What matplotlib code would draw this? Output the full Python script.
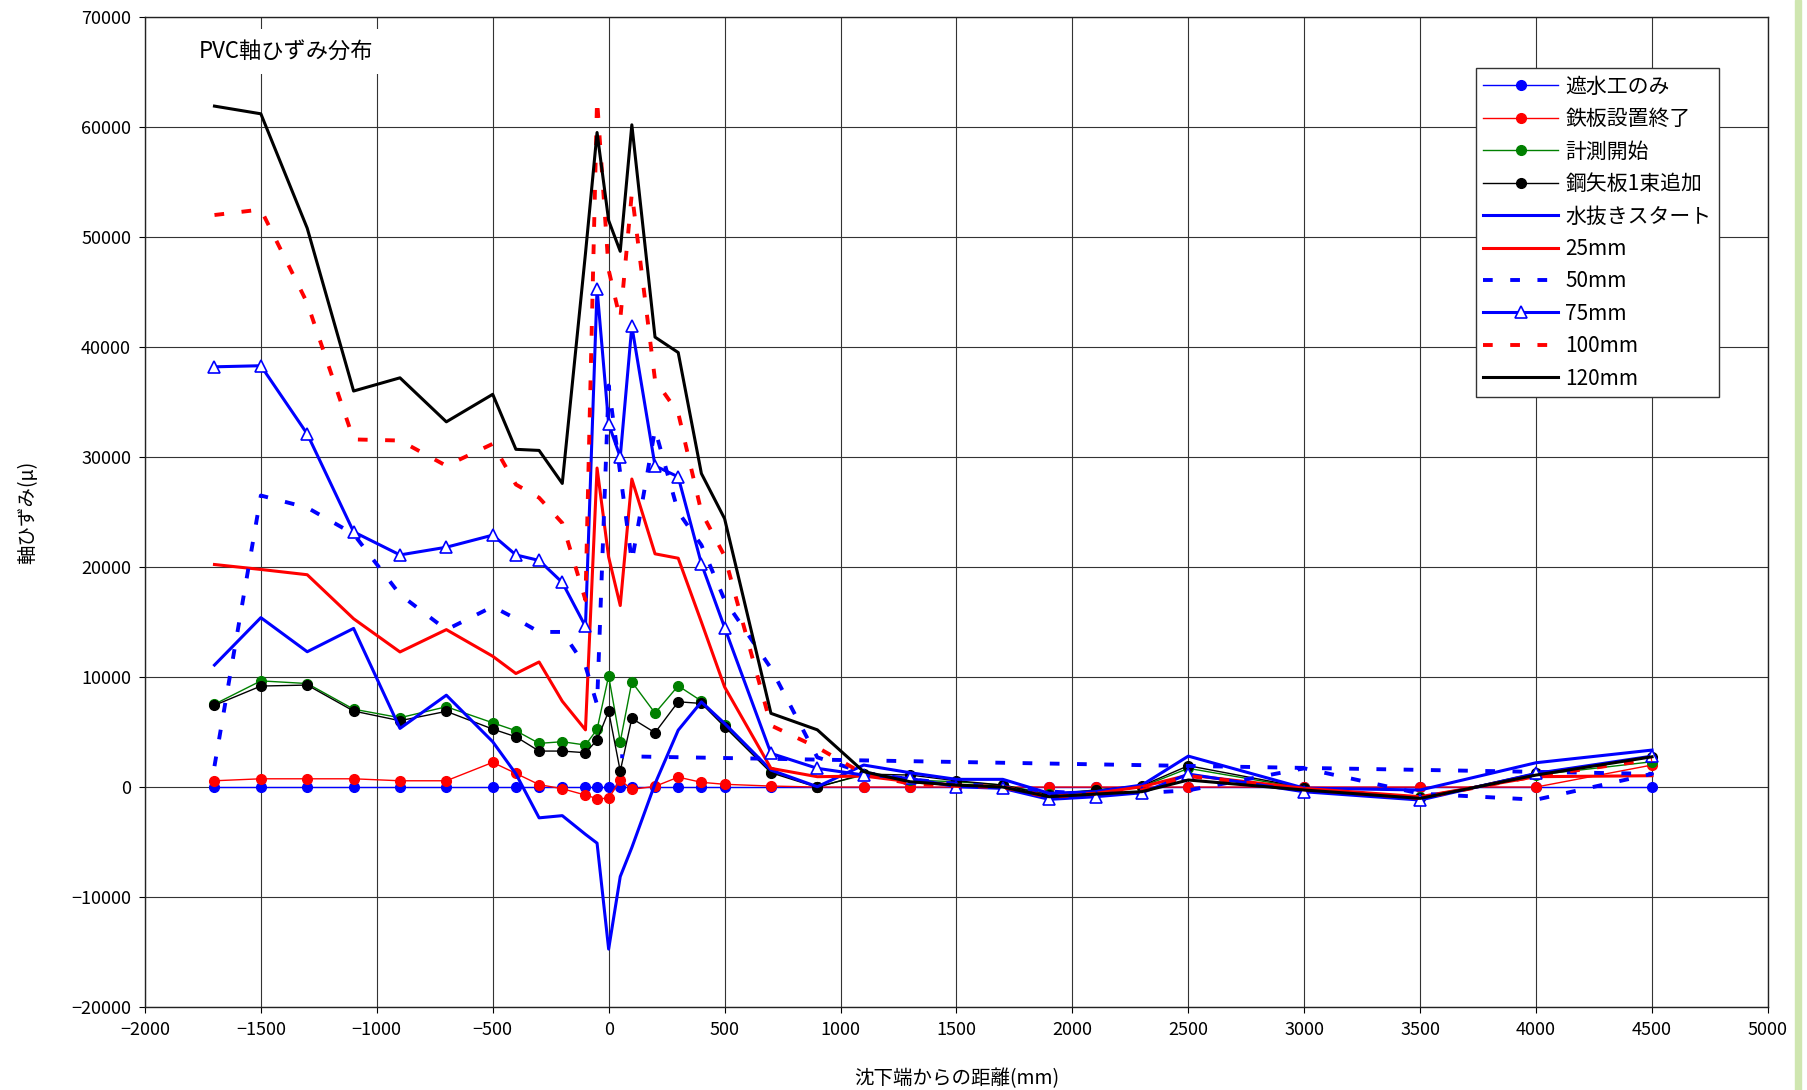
import numpy as np
from matplotlib import pyplot as plt
import matplotlib.ticker as mticker
from matplotlib.patches import Rectangle

plt.rcParams['font.family'] = ['Noto Sans CJK JP', 'DejaVu Sans']

# distance from settlement end (mm)
x = [-1700, -1500, -1300, -1100, -900, -700, -500, -400, -300, -200, -100, -50, 0, 50, 100,
     200, 300, 400, 500, 700, 900, 1100, 1300, 1500, 1700, 1900, 2100, 2300, 2500, 3000,
     3500, 4000, 4500]

shasui = [0] * len(x)
teppan = [570, 750, 750, 750, 570, 570, 2240, 1240, 220, -150, -730, -1050, -1030, 640, -210,
          60, 900, 430, 250, 90, 0, 0, 0, 0, 0, 0, 0, 0, 0, 0, 0, 0, 2000]
keisoku = [7530, 9650, 9410, 7080, 6300, 7300, 5840, 5120, 3970, 4120, 3820, 5240, 10100, 4120, 9560,
           6720, 9200, 7820, 5630, 1390, 30, 1090, 640, 480, 180, -640, -270, 30, 1700, -120,
           -880, 1090, 2300]
kouyaita = [7430, 9180, 9270, 6910, 6030, 6880, 5270, 4570, 3270, 3270, 3120, 4270, 6900, 1450, 6240,
            4940, 7750, 7600, 5480, 1300, -30, 1180, 1090, 570, 180, -730, -270, 120, 1940, -60,
            -1030, 1270, 2750]
mizunuki = [11090, 15400, 12300, 14420, 5330, 8350, 4120, 1200, -2800, -2600, -4300, -5100, -14730, -8140, -5500,
            300, 5170, 7740, 5780, 1540, 30, 2000, 1300, 700, 700, -570, -420, 180, 2810, -100,
            -270, 2210, 3360]
s25 = [20230, 19780, 19300, 15300, 12280, 14310, 11890, 10320, 11370, 7800, 5200, 29000, 20900, 16500, 28000,
       21200, 20800, 15000, 9100, 1700, 940, 1000, 480, 180, 0, -1030, -570, 30, 1090, -120,
       -880, 940, 1030]
# 50mm: the x=50 value was entered last in the sheet
x50 = [-1700, -1500, -1300, -1100, -900, -700, -500, -400, -300, -200, -100, -50, 0, 100,
       200, 300, 400, 500, 700, 900, 1100, 1300, 1500, 1700, 1900, 2100, 2300, 2500, 3000,
       3500, 4000, 4500, 50]
s50 = [1900, 26500, 25400, 23000, 17500, 14300, 16400, 15300, 14100, 14100, 11000, 7500, 36500, 20500,
       32500, 25000, 22000, 17000, 10800, 2700, 1300, 700, 300, 0, -400, -650, -550, -300, 1700,
       -600, -1150, 1200, 2800]
s75 = [38200, 38300, 32100, 23200, 21100, 21800, 22900, 21100, 20600, 18600, 14600, 45300, 33000, 30000, 41900,
       29200, 28200, 20300, 14500, 3060, 1700, 1090, 790, 30, -120, -1120, -880, -520, 1180, -430,
       -1180, 1240, 2810]
s100 = [52000, 52500, 44000, 31600, 31500, 29200, 31200, 27500, 26300, 24000, 17000, 62500, 47000, 42500, 54000,
        37000, 34000, 25000, 21000, 5600, 3600, 1200, 300, 100, 0, -900, -600, -300, 1000, -200,
        -1000, 1000, 2500]
s120 = [61900, 61200, 50800, 36000, 37200, 33200, 35700, 30700, 30600, 27600, 48500, 59500, 51500, 48700, 60200,
        40900, 39500, 28500, 24400, 6700, 5200, 1400, 480, 180, 0, -880, -640, -420, 640, -270,
        -1030, 1090, 2750]

fig = plt.figure(figsize=(18.07, 10.9), dpi=100)
ax = fig.add_axes([0.0802, 0.0761, 0.8982, 0.9083])

thin = dict(lw=1.0, marker='o', markersize=7)
thick = 2.2
dash = (2.5, 4.5)

ax.plot(x, shasui, color='blue', label='遮水工のみ', **thin)
ax.plot(x, teppan, color='red', label='鉄板設置終了', **thin)
ax.plot(x, keisoku, color='green', label='計測開始', **thin)
ax.plot(x, kouyaita, color='black', label='鋼矢板1束追加', **thin)
ax.plot(x, mizunuki, color='blue', lw=thick, label='水抜きスタート')
ax.plot(x, s25, color='red', lw=thick, label='25mm')
ax.plot(x50, s50, color='blue', lw=thick + 0.6, linestyle=(0, dash), label='50mm')
ax.plot(x, s75, color='blue', lw=thick, marker='^', markersize=8, markerfacecolor='white',
        markeredgecolor='blue', markeredgewidth=1.2, label='75mm')
ax.plot(x, s100, color='red', lw=thick + 0.6, linestyle=(0, dash), label='100mm')
ax.plot(x, s120, color='black', lw=thick, label='120mm')

ax.set_xlim(-2000, 5000)
ax.set_ylim(-20000, 70000)
ax.xaxis.set_major_locator(mticker.MultipleLocator(500))
ax.yaxis.set_major_locator(mticker.MultipleLocator(10000))
ax.xaxis.set_major_formatter(mticker.ScalarFormatter(useOffset=False))
ax.yaxis.set_major_formatter(mticker.ScalarFormatter(useOffset=False))
ax.grid(True, color='#333333', lw=0.8)
ax.set_axisbelow(True)
ax.tick_params(axis='both', which='major', labelsize=13, length=4, width=0.8, pad=6)
for sp in ax.spines.values():
    sp.set_linewidth(1.0)
    sp.set_color('#222222')

ax.set_xlabel('沈下端からの距離(mm)', fontsize=14)
ax.set_ylabel('軸ひずみ(μ)', fontsize=14)
ax.xaxis.set_label_coords(0.5, -0.062)
ax.yaxis.set_label_coords(-0.066, 0.5)

ax.text(0.033, 0.965, 'PVC軸ひずみ分布', transform=ax.transAxes, fontsize=16, va='center', ha='left',
        bbox=dict(facecolor='white', edgecolor='none', pad=8))

leg = ax.legend(loc='upper left', bbox_to_anchor=(0.820, 0.948), borderaxespad=0, fontsize=15,
                handlelength=3.6, handletextpad=0.35, labelspacing=0.5, borderpad=0.35,
                fancybox=False, framealpha=1, edgecolor='#333333', numpoints=1)
leg.get_frame().set_linewidth(1.0)

# pale green strip on the right edge of the sheet
fig.add_artist(Rectangle((0.9935, 0), 0.003, 1, transform=fig.transFigure, color='#cfe6b0'))

fig.savefig('out.png', dpi=100)
